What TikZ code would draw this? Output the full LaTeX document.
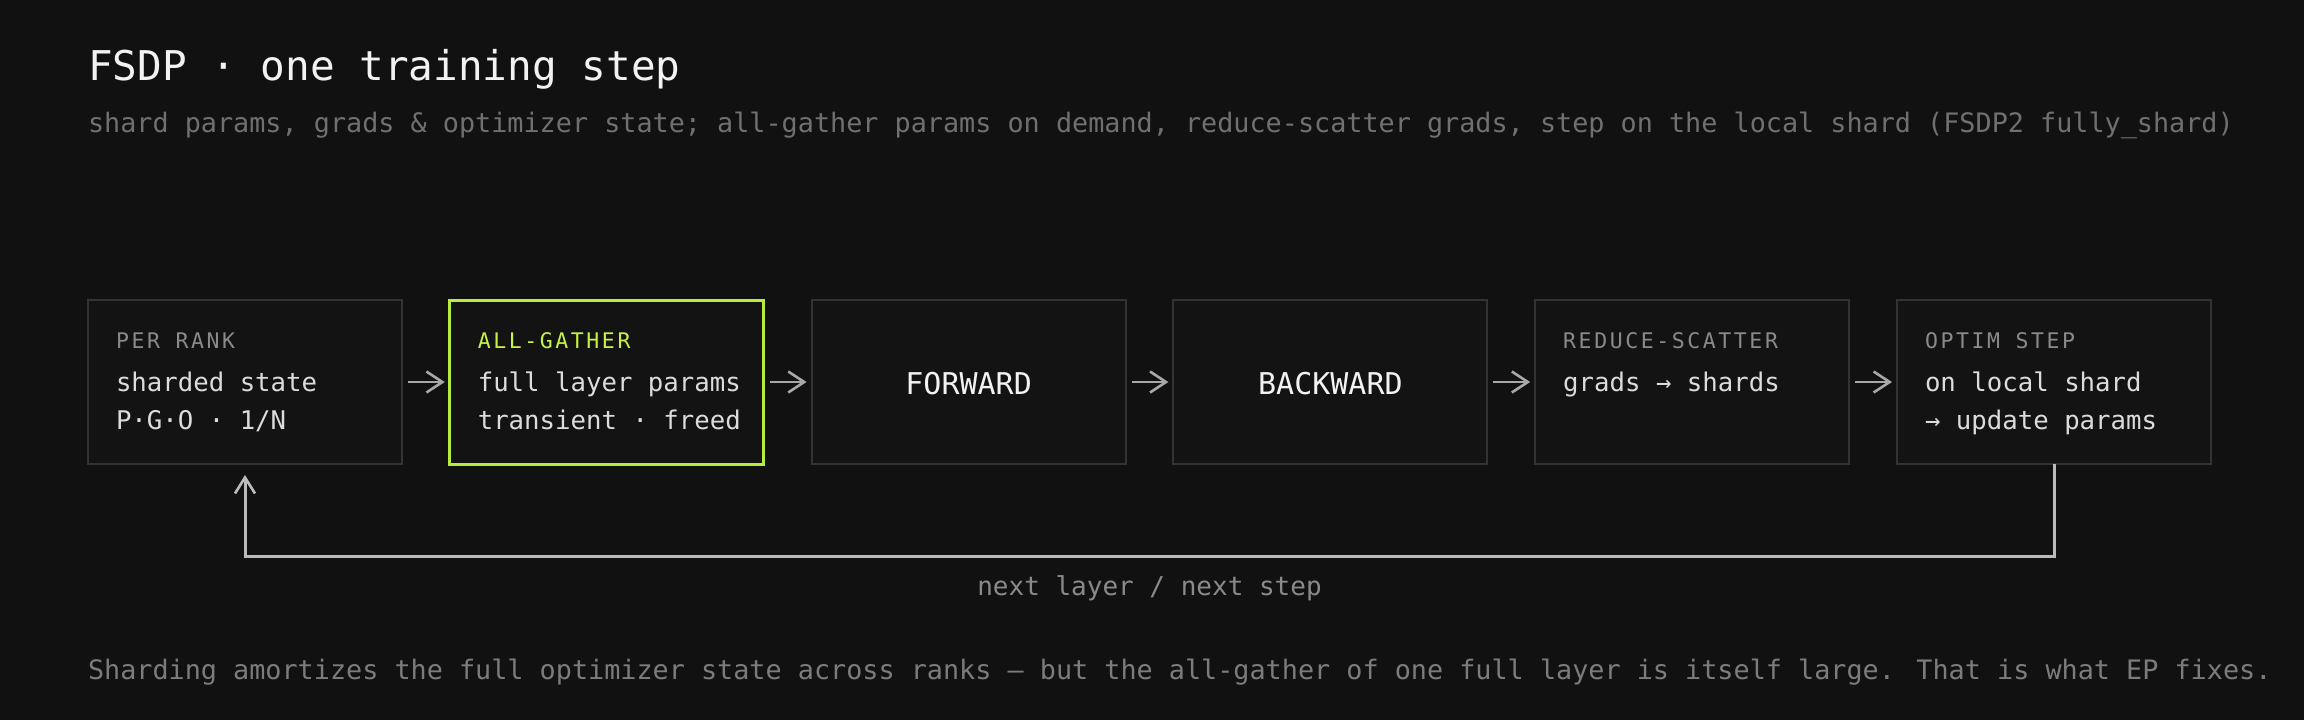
\documentclass[tikz,border=0pt]{standalone}
\usepackage{fontspec}
\setmainfont{DejaVu Sans Mono}
\newfontfamily\hdrfont{DejaVu Sans Mono}[LetterSpace=12]
\usetikzlibrary{arrows.meta,calc}
\definecolor{bg}{HTML}{111111}
\definecolor{boxfill}{HTML}{131313}
\definecolor{boxline}{HTML}{333333}
\definecolor{lime}{HTML}{B8EC3C}
\definecolor{limetext}{HTML}{C6F244}
\definecolor{titlecol}{HTML}{F2F2F2}
\definecolor{subcol}{HTML}{707070}
\definecolor{hdrcol}{HTML}{8A8A8A}
\definecolor{bodycol}{HTML}{DCDCDC}
\definecolor{arrowcol}{HTML}{A8A8A8}
\definecolor{loopcol}{HTML}{BBBBBB}
\definecolor{footcol}{HTML}{7C7C7C}
\begin{document}
\begin{tikzpicture}[x=0.5pt,y=-0.5pt,
  stagebox/.style={draw=boxline, line width=1pt, fill=boxfill, rectangle,
    minimum width=157pt, minimum height=82pt, inner sep=0pt, outer sep=0pt},
  hotbox/.style={stagebox, draw=lime, line width=1.5pt},
  txt/.style={inner sep=0pt, outer sep=0pt, anchor=base west},
  hdr/.style={txt, text=hdrcol, font=\hdrfont\fontsize{10.75pt}{12pt}\selectfont},
  hothdr/.style={hdr, text=limetext},
  bodytxt/.style={txt, text=bodycol, font=\fontsize{12.85pt}{15pt}\selectfont},
  bigtxt/.style={inner sep=0pt, outer sep=0pt, anchor=base, text=titlecol, font=\fontsize{15pt}{18pt}\selectfont},
  conn/.style={draw=arrowcol, line width=1.3pt, shorten <=3pt, shorten >=2.5pt,
    -{Straight Barb[length=8pt,width=10.5pt,line width=1.3pt]}},
  loopline/.style={draw=loopcol, line width=1.5pt, shorten >=5.5pt,
    -{Straight Barb[length=8pt,width=10pt,line width=1.3pt]}}
]
\fill[bg] (0,0) rectangle (2304,720);
\useasboundingbox (0,0) rectangle (2304,720);

% title and subtitle
\node[txt, text=titlecol, font=\fontsize{20.5pt}{24pt}\selectfont] (title) at (88,80) {FSDP · one training step};
\node[txt, text=subcol, font=\fontsize{13.4pt}{16pt}\selectfont] (subtitle) at (88,132)
  {shard params, grads \& optimizer state; all-gather params on demand, reduce-scatter grads, step on the local shard (FSDP2 fully\_shard)};

% boxes
\node[stagebox] (b1) at (245,382) {};
\node[hotbox]   (b2) at (606.8,382) {};
\node[stagebox] (b3) at (968.6,382) {};
\node[stagebox] (b4) at (1330.4,382) {};
\node[stagebox] (b5) at (1692.2,382) {};
\node[stagebox] (b6) at (2054,382) {};

% box texts
\node[hdr] (h1) at ($(b1.north west)+(28,48)$) {PER RANK};
\node[bodytxt] (t1a) at ($(b1.north west)+(28,91)$) {sharded state};
\node[bodytxt] (t1b) at ($(b1.north west)+(28,129)$) {P·G·O · 1/N};

\node[hothdr] (h2) at ($(b2.north west)+(28,48)$) {ALL-GATHER};
\node[bodytxt] (t2a) at ($(b2.north west)+(28,91)$) {full layer params};
\node[bodytxt] (t2b) at ($(b2.north west)+(28,129)$) {transient · freed};

\node[bigtxt] (t3) at ($(b3.center)+(0,12)$) {FORWARD};
\node[bigtxt] (t4) at ($(b4.center)+(0,12)$) {BACKWARD};

\node[hdr] (h5) at ($(b5.north west)+(28,48)$) {REDUCE-SCATTER};
\node[bodytxt] (t5a) at ($(b5.north west)+(28,91)$) {grads → shards};

\node[hdr] (h6) at ($(b6.north west)+(28,48)$) {OPTIM STEP};
\node[bodytxt] (t6a) at ($(b6.north west)+(28,91)$) {on local shard};
\node[bodytxt] (t6b) at ($(b6.north west)+(28,129)$) {→ update params};

% connectors
\draw[conn] (b1.east) -- (b2.west);
\draw[conn] (b2.east) -- (b3.west);
\draw[conn] (b3.east) -- (b4.west);
\draw[conn] (b4.east) -- (b5.west);
\draw[conn] (b5.east) -- (b6.west);

% loop back
\draw[loopline] (b6.south) -- ++(0,92) -| (b1.south);
\node[inner sep=0pt, anchor=base, text=hdrcol, font=\fontsize{13pt}{15pt}\selectfont] (looplbl)
  at ($(b1.south)!0.5!(b6.south)+(0,131)$) {next layer / next step};

% footer
\node[txt, text=footcol, font=\fontsize{13.4pt}{16pt}\selectfont] (footer) at (88,679)
  {Sharding amortizes the full optimizer state across ranks — but the all-gather of one full layer is itself large. That is what EP fixes.};
\end{tikzpicture}
\end{document}
